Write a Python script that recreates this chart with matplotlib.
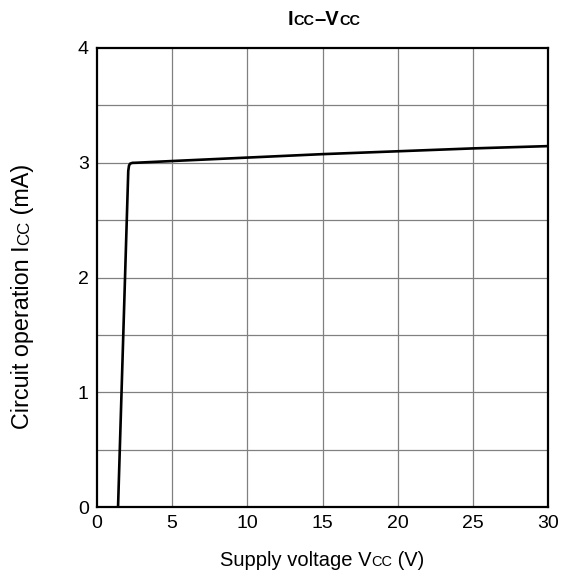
import matplotlib
matplotlib.use("Agg")
import matplotlib.pyplot as plt

plt.rcParams['font.family'] = ['Liberation Sans', 'DejaVu Sans']

# Supply current versus supply voltage
vcc = [1.4, 2.08, 2.13, 2.2, 2.35, 2.6, 5, 10, 15, 20, 25, 30]
icc = [0.0, 2.93, 2.975, 2.992, 2.999, 3.0, 3.015, 3.045, 3.075, 3.1, 3.125, 3.145]

x_ticks = [0, 5, 10, 15, 20, 25, 30]
y_ticks = [0, 1, 2, 3, 4]
y_grid = [0.5, 1, 1.5, 2, 2.5, 3, 3.5]

W, H = 564, 577
fig = plt.figure(figsize=(W / 100, H / 100), dpi=100)
ax = fig.add_axes([97 / W, 1 - 507 / H, 451 / W, 459 / H])

ax.plot(vcc, icc, color='black', lw=1.9, solid_joinstyle='round')

ax.set_xlim(0, 30)
ax.set_ylim(0, 4)
ax.set_xticks(x_ticks)
ax.set_yticks(y_ticks)
for x in x_ticks[1:-1]:
    ax.axvline(x, color='#808080', lw=0.9, zorder=0)
for y in y_grid:
    ax.axhline(y, color='#808080', lw=0.9, zorder=0)

ax.tick_params(length=0, labelsize=14, pad=6)
for s in ax.spines.values():
    s.set_linewidth(1.6)
    s.set_color('black')

renderer = fig.canvas.get_renderer()


def advance(s, size, weight):
    # horizontal advance of a string, including spaces
    def w(txt):
        t = fig.text(0, 0, txt, fontsize=size, fontweight=weight)
        bw = t.get_window_extent(renderer).width
        t.remove()
        return bw
    return w('H' + s + 'H') - w('HH')


def mixed_text(cx, cy, runs, rotation=0, weight='normal'):
    # draws runs of (text, size) on a common baseline, centred at cx/cy (pixels from top-left)
    adv = [advance(s, size, weight) for s, size in runs]
    total = sum(adv)
    pos = -total / 2
    for (s, size), a in zip(runs, adv):
        if rotation == 0:
            px, py = cx + pos, cy
        else:
            px, py = cx, cy - pos
        fig.text(px / W, 1 - py / H, s, fontsize=size, fontweight=weight,
                 ha='left', va='baseline', rotation=rotation, rotation_mode='anchor')
        pos += a


LS = 14.5
mixed_text(322, 566, [('Supply voltage V', LS), ('CC', LS * 0.72), (' (V)', LS)])
YS = 16.8
mixed_text(29, 296, [('Circuit operation I', YS), ('CC', YS * 0.72), (' (mA)', YS)], rotation=90)
TS = 14.5
mixed_text(324, 25, [('I', TS), ('CC', TS * 0.72), ('–V', TS), ('CC', TS * 0.72)], weight='bold')

fig.savefig('out.png', dpi=100)
